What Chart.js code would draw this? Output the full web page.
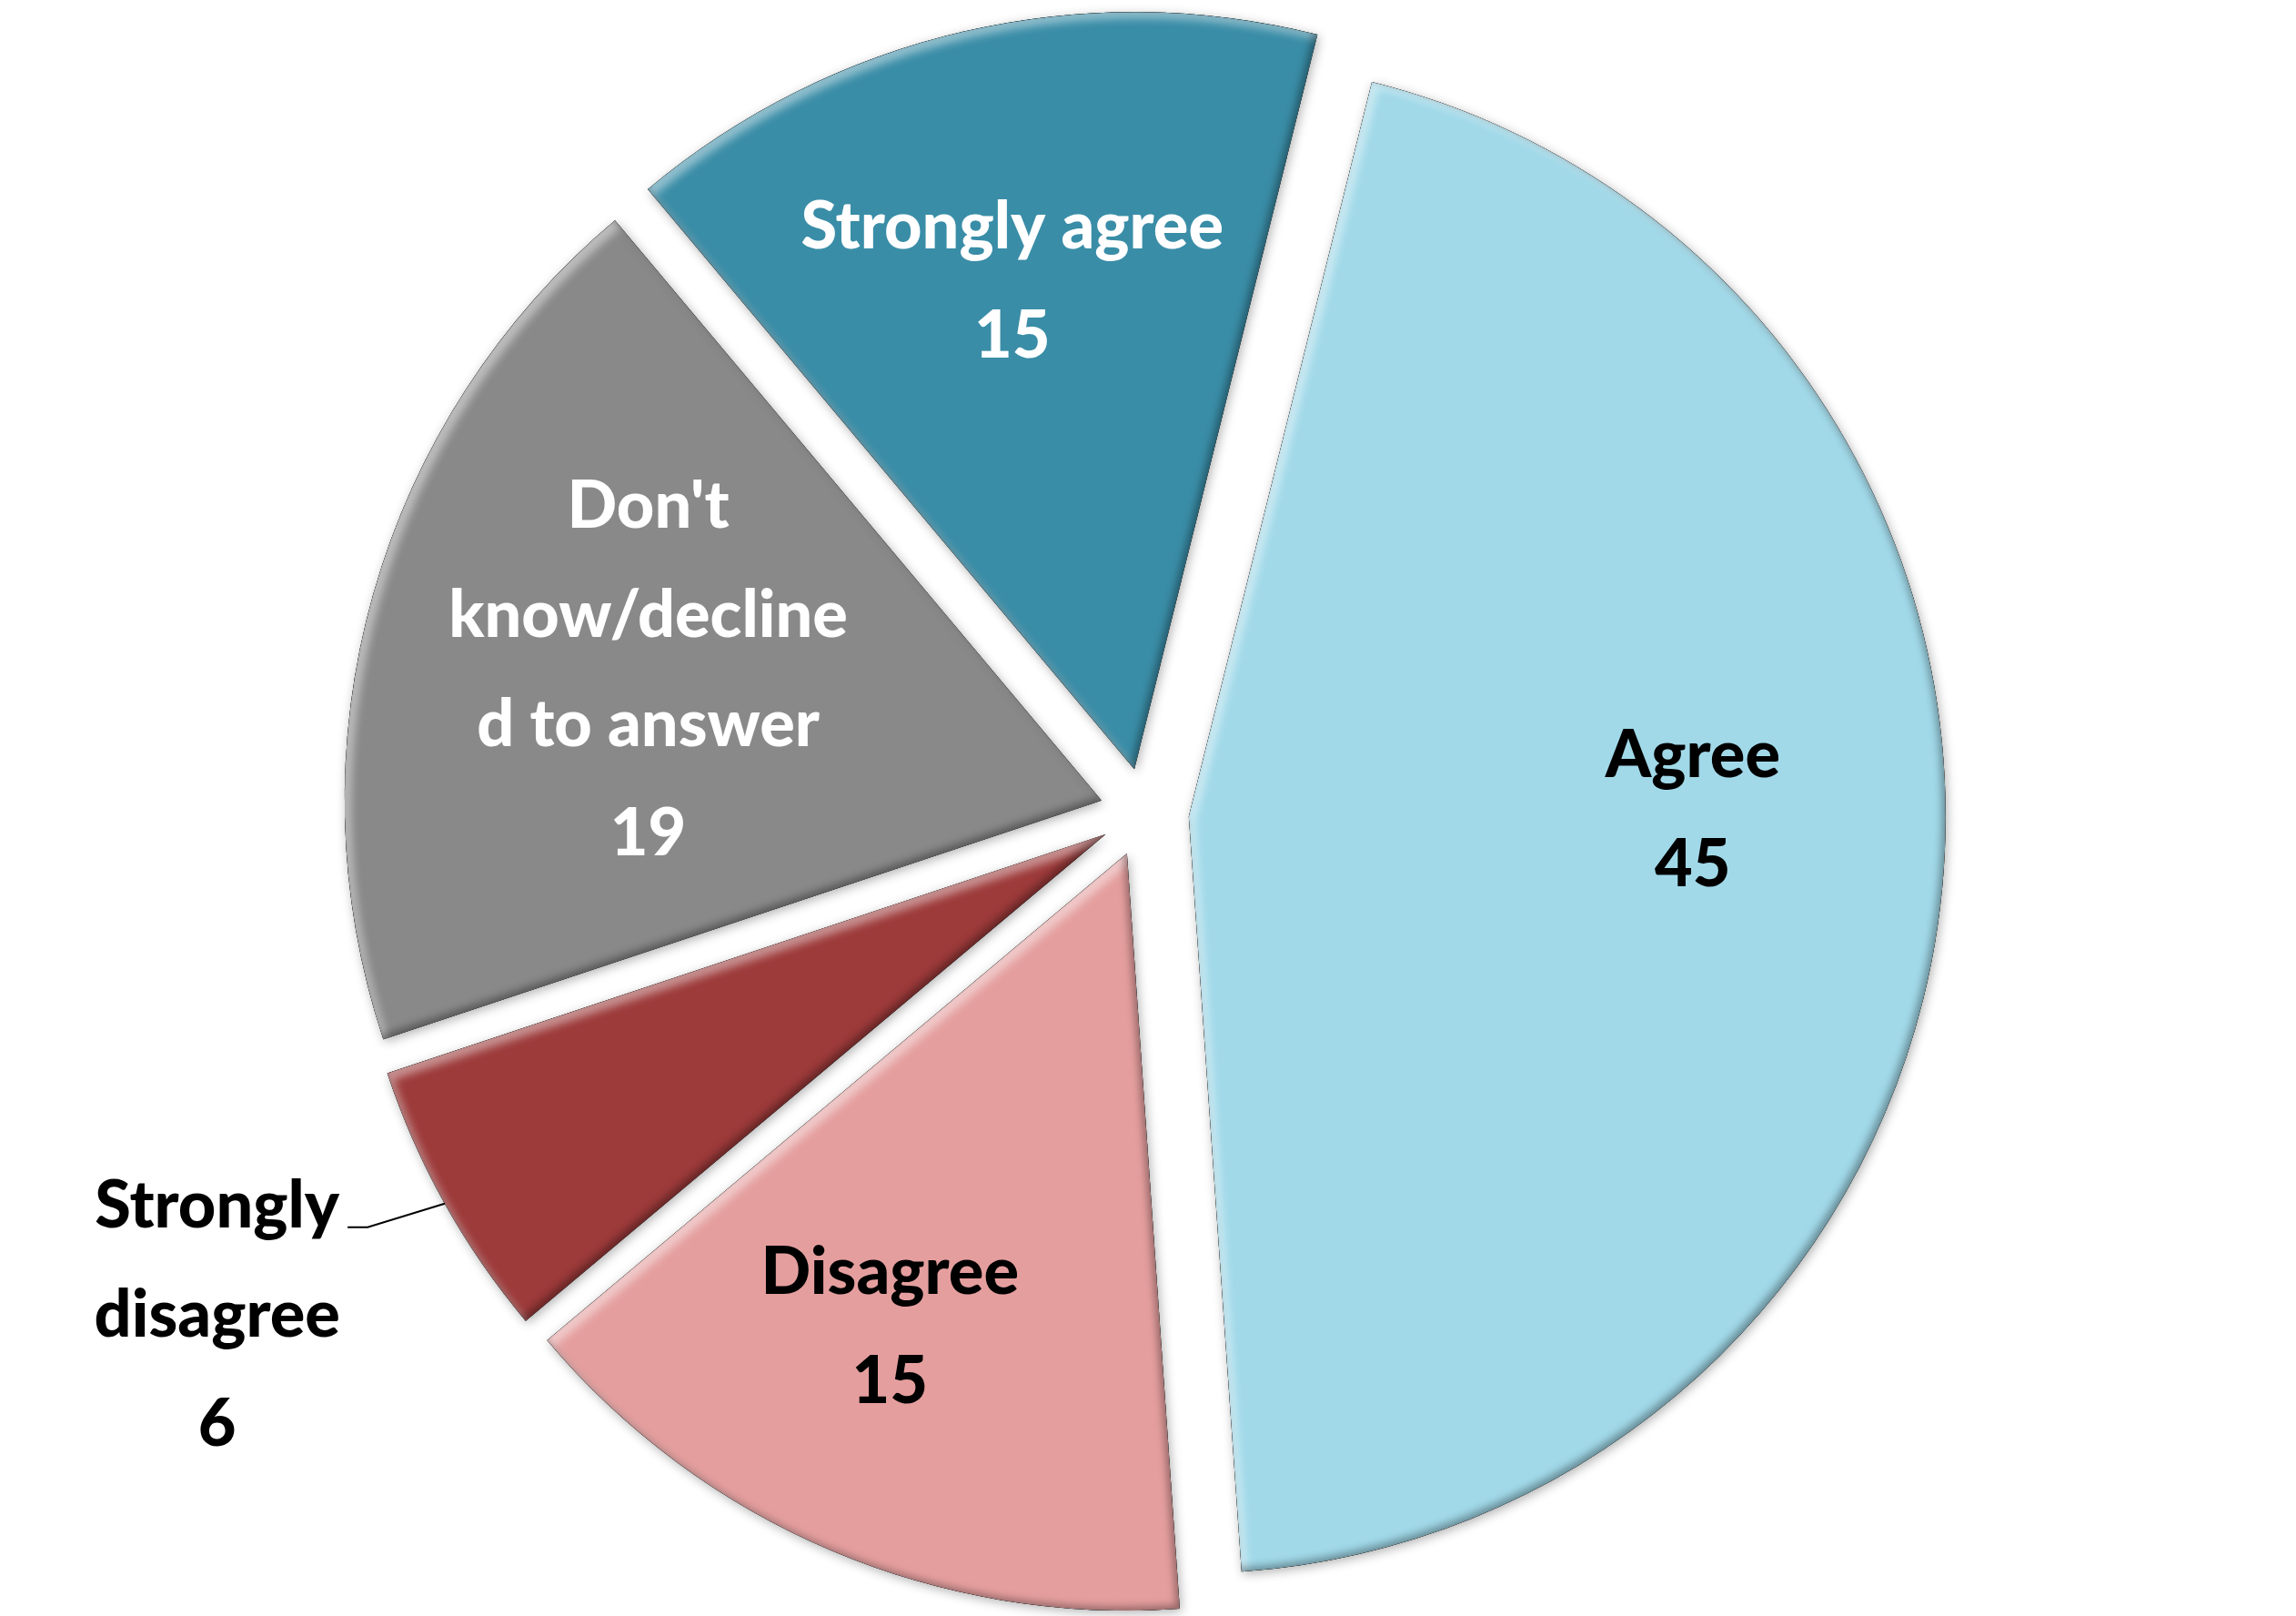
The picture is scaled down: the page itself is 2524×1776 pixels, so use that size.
<!DOCTYPE html>
<html><head><meta charset="utf-8">
<script src="https://cdn.jsdelivr.net/npm/chart.js@4.4.1/dist/chart.umd.min.js"></script>
<style>html,body{margin:0;padding:0;background:#fff;} #wrap{width:2524px;height:1776px;}</style>
</head><body><div id="wrap"><canvas id="c" width="2524" height="1776"></canvas></div>
<script>
const categories = ["Strongly agree", "Agree", "Disagree", "Strongly disagree", "Don't know/declined to answer"];
const values = [15, 45, 15, 6, 19];
const labelLines = [["Strongly agree"], ["Agree"], ["Disagree"], ["Strongly", "disagree"], ["Don't", "know/decline", "d to answer"]];
const sliceColors = ["#3A8DA7", "#A1D9E9", "#E59E9E", "#9D3A3A", "#898989"];
const labelColors = ["#ffffff", "#000000", "#000000", "#000000", "#ffffff"];

const EXPLODE = 49;
// label placement: [fraction of radius from slice apex, angle shift in degrees, outside with leader]
const labelPlacement = [[0.667, -1, false], [0.666, -6, false], [0.697, 3.7, false], [1.333, 0.9, true], [0.624, 0.5, false]];
const FONT = '900 72px Lato, "Open Sans", sans-serif';
const LINE_H = 120;

function wedge(ctx, a) {
  ctx.moveTo(a.x, a.y);
  ctx.arc(a.x, a.y, a.outerRadius, a.startAngle, a.endAngle);
  ctx.closePath();
}
function innerShadow(ctx, a, color, dx, dy, blur) {
  ctx.save();
  ctx.beginPath(); wedge(ctx, a); ctx.clip();
  ctx.beginPath();
  ctx.rect(a.x - 4000, a.y - 4000, 8000, 8000);
  wedge(ctx, a);
  ctx.shadowColor = color; ctx.shadowBlur = blur;
  ctx.shadowOffsetX = dx; ctx.shadowOffsetY = dy;
  ctx.fillStyle = '#000';
  ctx.fill('evenodd');
  ctx.restore();
}

const explodePlugin = {
  id: 'explode',
  beforeDatasetDraw(chart, args) {
    const ctx = chart.ctx;
    const arcs = args.meta.data;
    arcs.forEach((arc) => {
      const a = arc.getProps(['x', 'y', 'startAngle', 'endAngle', 'outerRadius'], true);
      const mid = (a.startAngle + a.endAngle) / 2;
      ctx.save();
      ctx.translate(Math.cos(mid) * EXPLODE, Math.sin(mid) * EXPLODE);
      ctx.save();
      ctx.shadowColor = 'rgba(0,0,0,0.3)';
      ctx.shadowBlur = 12;
      ctx.shadowOffsetX = 2;
      ctx.shadowOffsetY = 3;
      arc.draw(ctx, chart.chartArea);
      ctx.restore();
      innerShadow(ctx, a, 'rgba(255,255,255,0.45)', 7, 7, 10);
      innerShadow(ctx, a, 'rgba(0,0,0,0.35)', -4, -4, 8);
      ctx.restore();
    });
    return false;
  }
};

const labelPlugin = {
  id: 'sliceLabels',
  afterDatasetsDraw(chart) {
    const ctx = chart.ctx;
    const arcs = chart.getDatasetMeta(0).data;
    ctx.save();
    ctx.font = FONT;
    ctx.textAlign = 'center';
    ctx.textBaseline = 'alphabetic';
    arcs.forEach((arc, i) => {
      const a = arc.getProps(['x', 'y', 'startAngle', 'endAngle', 'outerRadius'], true);
      const mid = (a.startAngle + a.endAngle) / 2;
      const ax = a.x + Math.cos(mid) * EXPLODE, ay = a.y + Math.sin(mid) * EXPLODE;
      const [f, dDeg, outside] = labelPlacement[i];
      const ang = mid + dDeg * Math.PI / 180;
      const lx = ax + Math.cos(ang) * a.outerRadius * f;
      const ly = ay + Math.sin(ang) * a.outerRadius * f;
      const lines = labelLines[i].concat([String(values[i])]);
      const n = lines.length;
      const capH = 52;
      ctx.fillStyle = labelColors[i];
      lines.forEach((t, k) => {
        const by = ly + (k - (n - 1) / 2) * LINE_H + capH / 2;
        ctx.fillText(t, lx, by);
      });
      if (outside) {
        const by0 = ly + (0 - (n - 1) / 2) * LINE_H + capH / 2;
        const w0 = ctx.measureText(lines[0]).width;
        const x0 = lx + w0 / 2 + 9;
        const ex = ax + Math.cos(mid) * a.outerRadius;
        const ey = ay + Math.sin(mid) * a.outerRadius;
        ctx.beginPath();
        ctx.strokeStyle = '#000';
        ctx.lineWidth = 2;
        ctx.moveTo(x0, by0);
        ctx.lineTo(x0 + 22, by0);
        ctx.lineTo(ex, ey);
        ctx.stroke();
      }
    });
    ctx.restore();
  }
};

new Chart(document.getElementById('c'), {
  type: 'pie',
  data: {
    labels: categories,
    datasets: [{
      data: values,
      backgroundColor: sliceColors,
      borderWidth: 0
    }]
  },
  options: {
    responsive: false,
    animation: false,
    rotation: -40,
    radius: 832,
    layout: { padding: { left: 0, right: 8, top: 10, bottom: 0 } },
    plugins: { legend: { display: false }, tooltip: { enabled: false } }
  },
  plugins: [explodePlugin, labelPlugin]
});
</script>
</body></html>
